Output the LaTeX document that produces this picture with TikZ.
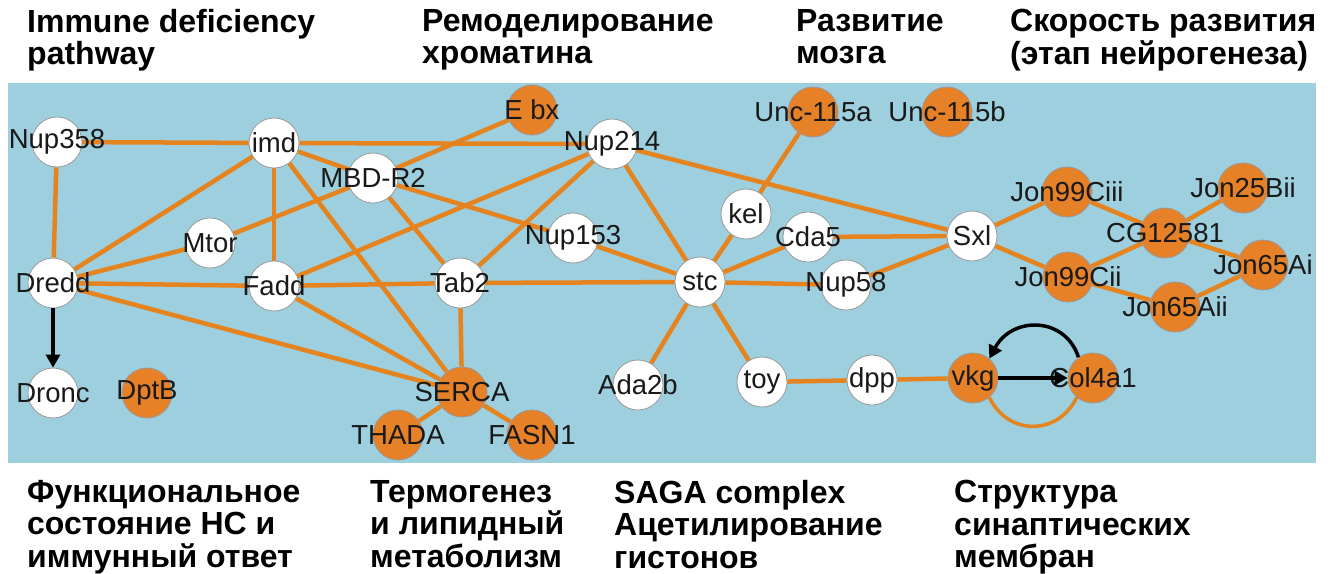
\documentclass[tikz,border=0pt]{standalone}
\usepackage{fontspec}
\setmainfont{Liberation Sans}
\usepackage{xcolor}
\usepackage{tikz}
\usetikzlibrary{arrows.meta}

\definecolor{bgblue}{RGB}{158,207,222}
\definecolor{linkorange}{RGB}{229,131,30}
\definecolor{geneorange}{RGB}{231,129,40}

\pgfdeclarelayer{bg}
\pgfsetlayers{bg,main}

\begin{document}
\begin{tikzpicture}[x=1pt, y=-1pt,
    gene/.style={circle, draw=black!40, line width=0.8pt, fill=white, minimum size=50pt, inner sep=0pt},
    hit/.style={gene, fill=geneorange},
    every label/.style={font=\fontsize{27.5}{27.5}\selectfont, text=black!90, inner sep=0pt},
    link/.style={linkorange, line width=4.5pt},
    reg/.style={black, line width=3.5pt, -{Triangle[length=13pt, width=14pt]}},
    head/.style={anchor=north west, inner sep=0pt, align=left, font=\bfseries\fontsize{32}{32.5}\selectfont}]
    \useasboundingbox (0,0) rectangle (1332,573);

    \node[head] at (27,9) (hdimd) {Immune deficiency\\pathway};
    \node[head] at (422,9) (hdchrom) {Ремоделирование\\хроматина};
    \node[head] at (796,9) (hdbrain) {Развитие\\мозга};
    \node[head] at (1010,9) (hdrate) {Скорость развития\\(этап нейрогенеза)};
    \node[head] at (27,480) (hdns) {Функциональное\\состояние НС и\\иммунный ответ};
    \node[head] at (370,480) (hdthermo) {Термогенез\\и липидный\\метаболизм};
    \node[head] at (614,480) (hdsaga) {SAGA complex\\Ацетилирование\\гистонов};
    \node[head] at (954,480) (hdsyn) {Структура\\синаптических\\мембран};

    \node[gene, label=center:Nup358] at (57, 142) (nup358) {};
    \node[gene, label=center:imd] at (274, 143) (imd) {};
    \node[gene, label=center:MBD-R2] at (373, 178) (mbd) {};
    \node[hit, label=center:E bx] at (532, 110) (ebx) {};
    \node[gene, label=center:Nup214] at (612, 144) (nup214) {};
    \node[gene, label=center:Mtor] at (210, 243) (mtor) {};
    \node[gene, label=center:Nup153] at (573, 238) (nup153) {};
    \node[gene, label=center:Dredd] at (53, 283) (dredd) {};
    \node[gene, label=center:Fadd] at (274, 286) (fadd) {};
    \node[gene, label=center:Tab2] at (460, 283) (tab2) {};
    \node[gene, label=center:stc] at (700, 282) (stc) {};
    \node[gene, label=center:kel] at (746, 214) (kel) {};
    \node[gene, label=center:Cda5] at (808, 237) (cda5) {};
    \node[gene, label=center:Nup58] at (846, 285) (nup58) {};
    \node[gene, label=center:Sxl] at (972, 236) (sxl) {};
    \node[hit, label=center:Unc-115a] at (813, 112) (unca) {};
    \node[hit, label=center:Unc-115b] at (947, 112) (uncb) {};
    \node[hit, label=center:Jon99Ciii] at (1067, 192) (jonciii) {};
    \node[hit, label=center:CG12581] at (1165, 233) (cg) {};
    \node[hit, label=center:Jon25Bii] at (1243, 188) (jonbii) {};
    \node[hit, label=center:Jon99Cii] at (1068, 277) (joncii) {};
    \node[hit, label=center:Jon65Ai] at (1263, 265) (jonai) {};
    \node[hit, label=center:Jon65Aii] at (1175, 307) (jonaii) {};
    \node[gene, label=center:Dronc] at (53, 393) (dronc) {};
    \node[hit, label=center:DptB] at (147, 393) (dptb) {};
    \node[hit, label=center:SERCA] at (462, 392) (serca) {};
    \node[hit, label=center:THADA] at (398, 435) (thada) {};
    \node[hit, label=center:FASN1] at (532, 435) (fasn) {};
    \node[gene, label=center:Ada2b] at (638, 385) (ada) {};
    \node[gene, label=center:toy] at (762, 382) (toy) {};
    \node[gene, label=center:dpp] at (872, 380) (dpp) {};
    \node[hit, label=center:vkg] at (973, 378) (vkg) {};
    \node[hit, label=center:Col4a1] at (1093, 378) (col) {};

    \begin{pgfonlayer}{bg}
    \fill[bgblue] (8,83) rectangle (1316,463);
    \draw[link] (nup358) edge (imd);
    \draw[link] (nup358) edge (dredd);
    \draw[link] (imd) edge (nup214);
    \draw[link] (imd) edge (mbd);
    \draw[link] (imd) edge (dredd);
    \draw[link] (imd) edge (fadd);
    \draw[link] (imd) edge (serca);
    \draw[link] (mbd) edge (ebx);
    \draw[link] (mbd) edge (mtor);
    \draw[link] (mbd) edge (tab2);
    \draw[link] (mbd) edge (nup153);
    \draw[link] (nup153) edge (stc);
    \draw[link] (dredd) edge (mtor);
    \draw[link] (dredd) edge (fadd);
    \draw[link] (fadd) edge (tab2);
    \draw[link] (tab2) edge (stc);
    \draw[link] (dredd) edge (serca);
    \draw[link] (fadd) edge (serca);
    \draw[link] (tab2) edge (serca);
    \draw[link] (fadd) edge (nup214);
    \draw[link] (tab2) edge (nup214);
    \draw[link] (nup214) edge (stc);
    \draw[link] (nup214) edge (sxl);
    \draw[link] (serca) edge (thada);
    \draw[link] (serca) edge (fasn);
    \draw[link] (stc) edge (kel);
    \draw[link] (stc) edge (cda5);
    \draw[link] (stc) edge (nup58);
    \draw[link] (stc) edge (ada);
    \draw[link] (stc) edge (toy);
    \draw[link] (kel) edge (unca);
    \draw[link] (cda5) edge (sxl);
    \draw[link] (nup58) edge (sxl);
    \draw[link] (sxl) edge (jonciii);
    \draw[link] (sxl) edge (joncii);
    \draw[link] (jonciii) edge (cg);
    \draw[link] (joncii) edge (cg);
    \draw[link] (cg) edge (jonbii);
    \draw[link] (cg) edge (jonai);
    \draw[link] (jonai) edge (jonaii);
    \draw[link] (joncii) edge (jonaii);
    \draw[link] (toy) edge (dpp);
    \draw[link] (dpp) edge (vkg);
    \draw[link, line width=3.5pt] (vkg.-50) .. controls (1008,436) and (1058,436) .. (col.-130);
    \end{pgfonlayer}

    % regulation arrows
    \draw[reg] (dredd) -- (dronc);
    \draw[reg] (vkg) -- (col);
    \draw[reg] (col.125) .. controls (1065,316) and (1012,316) .. (vkg.50);
\end{tikzpicture}
\end{document}
